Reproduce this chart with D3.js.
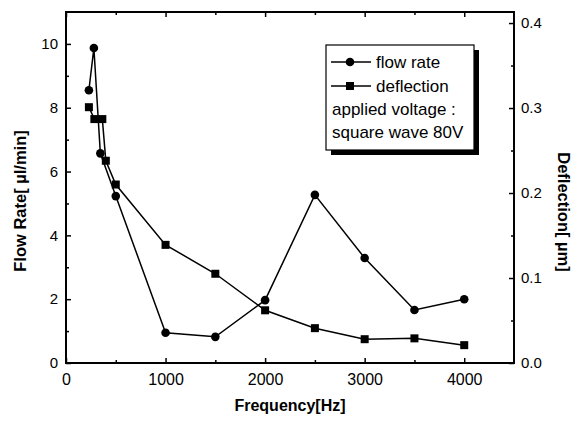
<!DOCTYPE html>
<html>
<head>
<meta charset="utf-8">
<script src="https://cdn.jsdelivr.net/npm/d3@7/dist/d3.min.js"></script>
<style>
body { margin: 0; background: #fff; }
text { font-family: "Liberation Sans", Arial, sans-serif; fill: #000; }
</style>
</head>
<body>
<div id="chart"></div>
<script>
// flow rate (left axis, ul/min)
var flowFreq = [230, 280, 345, 500, 1000, 1500, 2000, 2500, 3000, 3500, 4000];
var flowRate = [8.55, 9.87, 6.57, 5.23, 0.95, 0.82, 1.97, 5.27, 3.29, 1.66, 2.0];
// deflection (right axis, um)
var deflFreq = [230, 285, 365, 400, 500, 1000, 1500, 2000, 2500, 3000, 3500, 4000];
var deflection = [0.301, 0.287, 0.287, 0.238, 0.21, 0.139, 0.105, 0.062, 0.041, 0.028, 0.029, 0.021];

var xTicks = [0, 1000, 2000, 3000, 4000];
var leftTicks = [0, 2, 4, 6, 8, 10];
var rightTicks = [0.0, 0.1, 0.2, 0.3, 0.4];
var legendLines = ["applied voltage :", "square wave 80V"];

var width = 573, height = 421;
var mLeft = 66, mRight = 514, mTop = 12, mBottom = 363;

var svg = d3.select("#chart").append("svg")
    .attr("width", width)
    .attr("height", height);

var x = d3.scaleLinear().domain([0, 4500]).range([mLeft, mRight]);
var yL = d3.scaleLinear().domain([0, 11]).range([mBottom, mTop]);
var yR = d3.scaleLinear().domain([0, 0.413]).range([mBottom, mTop]);

function styleAxis(g, size) {
    g.select(".domain").remove();
    g.selectAll(".tick line").attr("stroke", "#000").attr("stroke-width", 1.5);
    g.selectAll("text").style("font-size", size + "px").attr("fill", "#000");
}

// minor ticks first
svg.append("g").attr("transform", "translate(0," + mBottom + ")")
    .call(d3.axisBottom(x).tickValues(d3.range(500, 4500, 1000)).tickSize(-3).tickFormat(""))
    .call(styleAxis, 16);
svg.append("g").attr("transform", "translate(0," + mTop + ")")
    .call(d3.axisTop(x).tickValues(d3.range(500, 4500, 1000)).tickSize(-3).tickFormat(""))
    .call(styleAxis, 16);
svg.append("g").attr("transform", "translate(" + mLeft + ",0)")
    .call(d3.axisLeft(yL).tickValues(d3.range(1, 11, 2)).tickSize(-3).tickFormat(""))
    .call(styleAxis, 15);
svg.append("g").attr("transform", "translate(" + mRight + ",0)")
    .call(d3.axisRight(yR).tickValues([0.05, 0.15, 0.25, 0.35]).tickSize(-3).tickFormat(""))
    .call(styleAxis, 15);

// major ticks
svg.append("g").attr("transform", "translate(0," + mBottom + ")")
    .call(d3.axisBottom(x).tickValues(xTicks).tickSize(-5).tickPadding(11).tickFormat(d3.format("d")))
    .call(styleAxis, 16);
svg.append("g").attr("transform", "translate(0," + mTop + ")")
    .call(d3.axisTop(x).tickValues(xTicks).tickSize(-5).tickFormat(""))
    .call(styleAxis, 16);
svg.append("g").attr("transform", "translate(" + mLeft + ",0)")
    .call(d3.axisLeft(yL).tickValues(leftTicks).tickSize(-5).tickPadding(8).tickFormat(d3.format("d")))
    .call(styleAxis, 15);
svg.append("g").attr("transform", "translate(" + mRight + ",0)")
    .call(d3.axisRight(yR).tickValues(rightTicks).tickSize(-5).tickPadding(7).tickFormat(d3.format(".1f")))
    .call(styleAxis, 15);

// frame
svg.append("rect")
    .attr("x", mLeft).attr("y", mTop)
    .attr("width", mRight - mLeft).attr("height", mBottom - mTop)
    .attr("fill", "none").attr("stroke", "#000").attr("stroke-width", 2);

// lines
var flowData = flowFreq.map(function(f, i) { return [f, flowRate[i]]; });
var deflData = deflFreq.map(function(f, i) { return [f, deflection[i]]; });

svg.append("path")
    .attr("d", d3.line().x(function(d) { return x(d[0]); }).y(function(d) { return yL(d[1]); })(flowData))
    .attr("fill", "none").attr("stroke", "#000").attr("stroke-width", 1.5);
svg.append("path")
    .attr("d", d3.line().x(function(d) { return x(d[0]); }).y(function(d) { return yR(d[1]); })(deflData))
    .attr("fill", "none").attr("stroke", "#000").attr("stroke-width", 1.5);

svg.selectAll(".flow").data(flowData).enter().append("circle")
    .attr("class", "flow")
    .attr("cx", function(d) { return x(d[0]); })
    .attr("cy", function(d) { return yL(d[1]); })
    .attr("r", 4.3).attr("fill", "#000");
svg.selectAll(".defl").data(deflData).enter().append("rect")
    .attr("class", "defl")
    .attr("x", function(d) { return x(d[0]) - 4; })
    .attr("y", function(d) { return yR(d[1]) - 4; })
    .attr("width", 8).attr("height", 8).attr("fill", "#000");

// axis titles
svg.append("text")
    .attr("x", 290).attr("y", 411)
    .attr("text-anchor", "middle")
    .style("font-size", "16px").style("font-weight", "bold")
    .text("Frequency[Hz]");
svg.append("text")
    .attr("transform", "translate(26,201) rotate(-90)")
    .attr("text-anchor", "middle")
    .style("font-size", "16.5px").style("font-weight", "bold")
    .text("Flow Rate[ \u00b5l/min]");
svg.append("text")
    .attr("transform", "translate(558,212) rotate(90)")
    .attr("text-anchor", "middle")
    .style("font-size", "16.5px").style("font-weight", "bold")
    .text("Deflection[ \u00b5m]");

// legend
var lg = svg.append("g").attr("transform", "translate(326,45)");
lg.append("rect").attr("x", 5).attr("y", 5).attr("width", 148).attr("height", 105).attr("fill", "#000");
lg.append("rect").attr("x", 0).attr("y", 0).attr("width", 148).attr("height", 105)
    .attr("fill", "#fff").attr("stroke", "#000").attr("stroke-width", 1.2);

var items = [{label: "flow rate", shape: "circle"}, {label: "deflection", shape: "square"}];
items.forEach(function(it, i) {
    var cy = 17 + i * 24;
    lg.append("line").attr("x1", 5).attr("x2", 45).attr("y1", cy).attr("y2", cy)
        .attr("stroke", "#000").attr("stroke-width", 1.5);
    if (it.shape == "circle") {
        lg.append("circle").attr("cx", 24).attr("cy", cy).attr("r", 4.3).attr("fill", "#000");
    } else {
        lg.append("rect").attr("x", 20).attr("y", cy - 4).attr("width", 8).attr("height", 8).attr("fill", "#000");
    }
    lg.append("text").attr("x", 50).attr("y", cy + 6)
        .style("font-size", "17px").text(it.label);
});
legendLines.forEach(function(t, i) {
    lg.append("text").attr("x", 6).attr("y", 70 + i * 23)
        .style("font-size", "17px").text(t);
});
</script>
</body>
</html>
